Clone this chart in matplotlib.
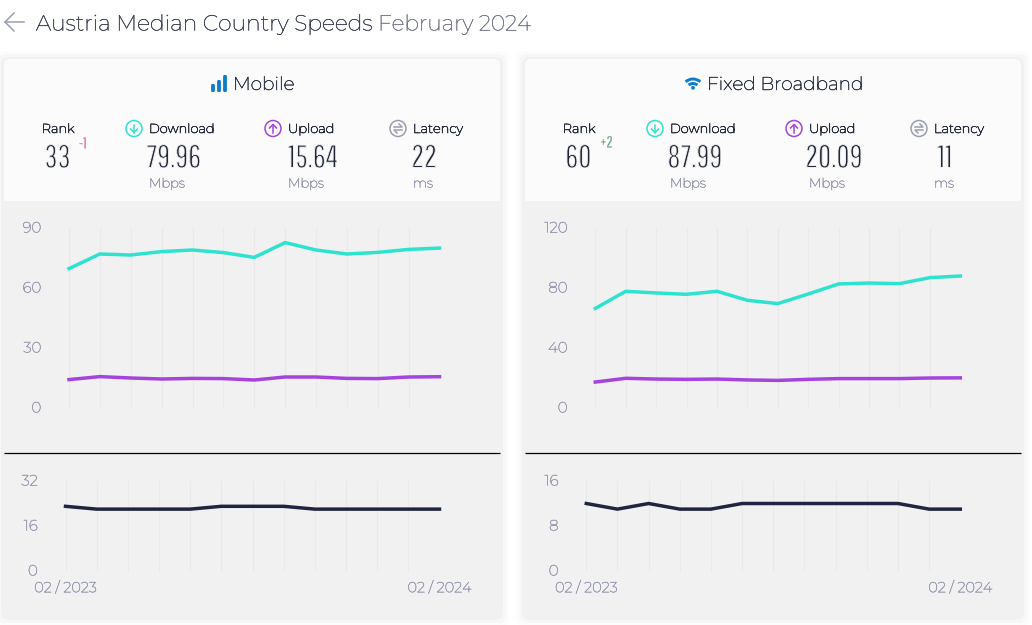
import numpy as np
import matplotlib
matplotlib.use("Agg")
from matplotlib import pyplot as plt
from matplotlib import patheffects as pe
from matplotlib.patches import FancyBboxPatch, Rectangle, Circle, Arc
from matplotlib.transforms import ScaledTranslation

W, H = 1032, 625

months = list(range(13))
date_labels = ["02 / 2023", "02 / 2024"]

mobile_download = [69.7, 77, 76.5, 78.2, 79, 77.7, 75.3, 82.7, 79, 77, 77.8, 79.3, 79.96]
mobile_upload = [14.2, 15.7, 15, 14.5, 14.8, 14.7, 14, 15.5, 15.5, 14.8, 14.7, 15.5, 15.64]
mobile_latency = [23, 22, 22, 22, 22, 23, 23, 23, 22, 22, 22, 22, 22]

fixed_download = [66.4, 77.8, 76.7, 75.8, 77.8, 71.8, 69.6, 76, 82.7, 83.3, 82.9, 86.9, 87.99]
fixed_upload = [17.3, 19.8, 19.3, 19.1, 19.3, 18.7, 18.4, 19.1, 19.6, 19.6, 19.6, 20, 20.09]
fixed_latency = [12, 11, 12, 11, 11, 12, 12, 12, 12, 12, 12, 11, 11]

mobile_speed_ticks = [0, 30, 60, 90]
mobile_latency_ticks = [0, 16, 32]
fixed_speed_ticks = [0, 40, 80, 120]
fixed_latency_ticks = [0, 8, 16]

TEAL = "#2de3d0"
PURPLE = "#a543dd"
NAVY = "#1f2540"
BLUE = "#0e7cc7"
GREY = "#9b9eb2"
PANEL = "#f1f1f2"
HEADER = "#fbfbfb"
GRID = "#e9e9ea"

# Montserrat here is the thin master, so the text gets a small stroke to bring it up to regular
plt.rcParams["font.family"] = ["Montserrat", "Inter", "DejaVu Sans"]
NARROW = ["Pathway Gothic One", "Big Shoulders Display", "Liberation Sans", "DejaVu Sans"]

fig = plt.figure(figsize=(W / 100, H / 100), dpi=100, facecolor="white")
bg = fig.add_axes([0, 0, 1, 1], zorder=0)
bg.set_xlim(0, W)
bg.set_ylim(H, 0)
bg.axis("off")


def px(size):
    return size * 0.72


def label(x, y, s, size, color, ha="left", stroke=0.45):
    t = bg.text(x, y + 1, s, ha=ha, va="center", fontsize=px(size), color=color)
    t.set_path_effects([pe.withStroke(linewidth=stroke, foreground=color)])
    return t


def narrow_label(x, y, s, size, color, thin):
    # outline in the card colour on top of the fill, the reference digits are very light
    t = bg.text(x, y, s, ha="center", va="center", fontsize=px(size), color=color, family=NARROW, zorder=3)
    t.set_path_effects([pe.Normal(), pe.Stroke(linewidth=thin, foreground=HEADER)])
    return t


def chart_axes(x0, x1, y0, y1, ymax, yticks, xlabels=False):
    ax = fig.add_axes([x0 / W, 1 - y1 / H, (x1 - x0) / W, (y1 - y0) / H], zorder=2)
    ax.patch.set_alpha(0)
    ax.set_xlim(0, 12)
    ax.set_ylim(0, ymax)
    for s in ax.spines.values():
        s.set_visible(False)
    ax.set_yticks(yticks)
    ax.tick_params(axis="y", length=0, pad=20, labelsize=px(15), labelcolor=GREY)
    ax.set_xticks(months)
    ax.xaxis.grid(True, color=GRID, lw=0.75)
    ax.tick_params(axis="x", length=0)
    if xlabels:
        ax.set_xticks([0, 12])
        ax.set_xticks(months, minor=True)
        ax.xaxis.grid(True, which="minor", color=GRID, lw=0.75)
        ax.tick_params(axis="x", which="minor", length=0)
        ax.set_xticklabels(date_labels)
        ax.tick_params(axis="x", pad=7, labelsize=px(14.5), labelcolor=GREY)
    else:
        ax.set_xticklabels([])
    nudge = ScaledTranslation(0, 1 / 100, fig.dpi_scale_trans)
    for t in ax.get_yticklabels():
        t.set_transform(t.get_transform() + nudge)
    for t in ax.get_xticklabels() + ax.get_yticklabels():
        t.set_path_effects([pe.withStroke(linewidth=0.35, foreground=GREY)])
    ax.set_axisbelow(True)
    return ax


def circle_icon(x, y, color, kind):
    bg.add_patch(Circle((x, y), 8, fc="none", ec=color, lw=1.1))
    if kind == "down":
        bg.plot([x, x], [y - 4, y + 4], color=color, lw=1.1)
        bg.plot([x - 3.5, x, x + 3.5], [y + 0.5, y + 4, y + 0.5], color=color, lw=1.1)
    elif kind == "up":
        bg.plot([x, x], [y - 4, y + 4], color=color, lw=1.1)
        bg.plot([x - 3.5, x, x + 3.5], [y - 0.5, y - 4, y - 0.5], color=color, lw=1.1)
    else:
        bg.plot([x - 4, x + 4, x + 1], [y - 1.5, y - 1.5, y - 4.5], color=color, lw=1.1)
        bg.plot([x + 4, x - 4, x - 1], [y + 1.5, y + 1.5, y + 4.5], color=color, lw=1.1)


def card(dx, rank, change, change_color, change_x, change_y, down, up, lat):
    left, right = 4 + dx, 500 + dx
    # soft shadow
    for grow, a in [(9, 0.012), (6, 0.018), (3, 0.025)]:
        bg.add_patch(FancyBboxPatch((left - grow, 59 - grow + 1), right - left + 2 * grow, 557 + 2 * grow,
                                    boxstyle="round,pad=0,rounding_size=8", fc="black", ec="none", alpha=a))
    bg.add_patch(FancyBboxPatch((left, 59), right - left, 557, boxstyle="round,pad=0,rounding_size=6",
                                fc=PANEL, ec="none", zorder=1))
    bg.add_patch(FancyBboxPatch((left, 59), right - left, 142, boxstyle="round,pad=0,rounding_size=6",
                                fc=HEADER, ec="none", zorder=1))
    bg.add_patch(Rectangle((left, 190), right - left, 11, fc=HEADER, ec="none", zorder=1))
    bg.plot([left, right], [453, 453], color="black", lw=0.9, zorder=2, solid_capstyle="butt")

    # column headers
    label(58 + dx, 128.5, "Rank", 13, "#2b2f42", ha="center")
    for icon_x, text, color, kind in [(134, "Download", TEAL, "down"), (273, "Upload", PURPLE, "up"),
                                      (398, "Latency", GREY, "lat")]:
        circle_icon(icon_x + dx, 128.5, color, kind)
        label(icon_x + dx + 15, 128.5, text, 13, "#2b2f42")

    # big numbers
    for x, v in [(57.5, rank), (174, down), (313, up), (424, lat)]:
        narrow_label(x + dx, 158.5, v, 32, "#23273a", 0.65)
    narrow_label(change_x + dx, change_y, change, 16, change_color, 0.2)
    for x, u in [(167, "Mbps"), (306, "Mbps"), (423, "ms")]:
        label(x + dx, 183, u, 13, GREY, ha="center", stroke=0.35)


card(0, "33", "-1", "#e8557a", 83, 144, "79.96", "15.64", "22")
card(521, "60", "+2", "#5f9a78", 85.5, 143, "87.99", "20.09", "11")

# title row
bg.plot([14, 5, 14], [13, 22, 31], color=GREY, lw=1.1)
bg.plot([5, 24], [22, 22], color=GREY, lw=1.1)
label(36, 23, "Austria Median Country Speeds", 21.9, "#3d4256", stroke=0.3)
label(378, 23, "February 2024", 21.7, "#75788a", stroke=0.3)

# card titles and icons
label(233, 84, "Mobile", 18.5, "#2f3448", stroke=0.35)
for x, top in [(213, 84), (219, 80), (225, 75)]:
    bg.add_patch(FancyBboxPatch((x - 1.9, top), 3.8, 92 - top, boxstyle="round,pad=0,rounding_size=1.4",
                                fc=BLUE, ec="none"))
label(707, 84, "Fixed Broadband", 18.5, "#2f3448", stroke=0.35)
for r in [11, 6.5]:
    bg.add_patch(Arc((693, 90), 2 * r, 2 * r, theta1=228, theta2=312, color=BLUE, lw=2.1))
bg.add_patch(Circle((693, 87.8), 1.9, fc=BLUE, ec="none"))

# charts
ax = chart_axes(69, 439.5, 228, 408, 90, mobile_speed_ticks)
ax.plot(months, mobile_download, color=TEAL, lw=2.5, clip_on=False)
ax.plot(months, mobile_upload, color=PURPLE, lw=2.5, clip_on=False)

ax = chart_axes(65.5, 439.5, 481, 571, 32, mobile_latency_ticks, xlabels=True)
ax.plot(months, mobile_latency, color=NAVY, lw=2.5, clip_on=False)

ax = chart_axes(595.3, 960.3, 228, 408, 120, fixed_speed_ticks)
ax.plot(months, fixed_download, color=TEAL, lw=2.5, clip_on=False)
ax.plot(months, fixed_upload, color=PURPLE, lw=2.5, clip_on=False)

ax = chart_axes(586.3, 960.3, 481, 571, 16, fixed_latency_ticks, xlabels=True)
ax.plot(months, fixed_latency, color=NAVY, lw=2.5, clip_on=False)

fig.savefig("out.png", dpi=100, facecolor="white")
